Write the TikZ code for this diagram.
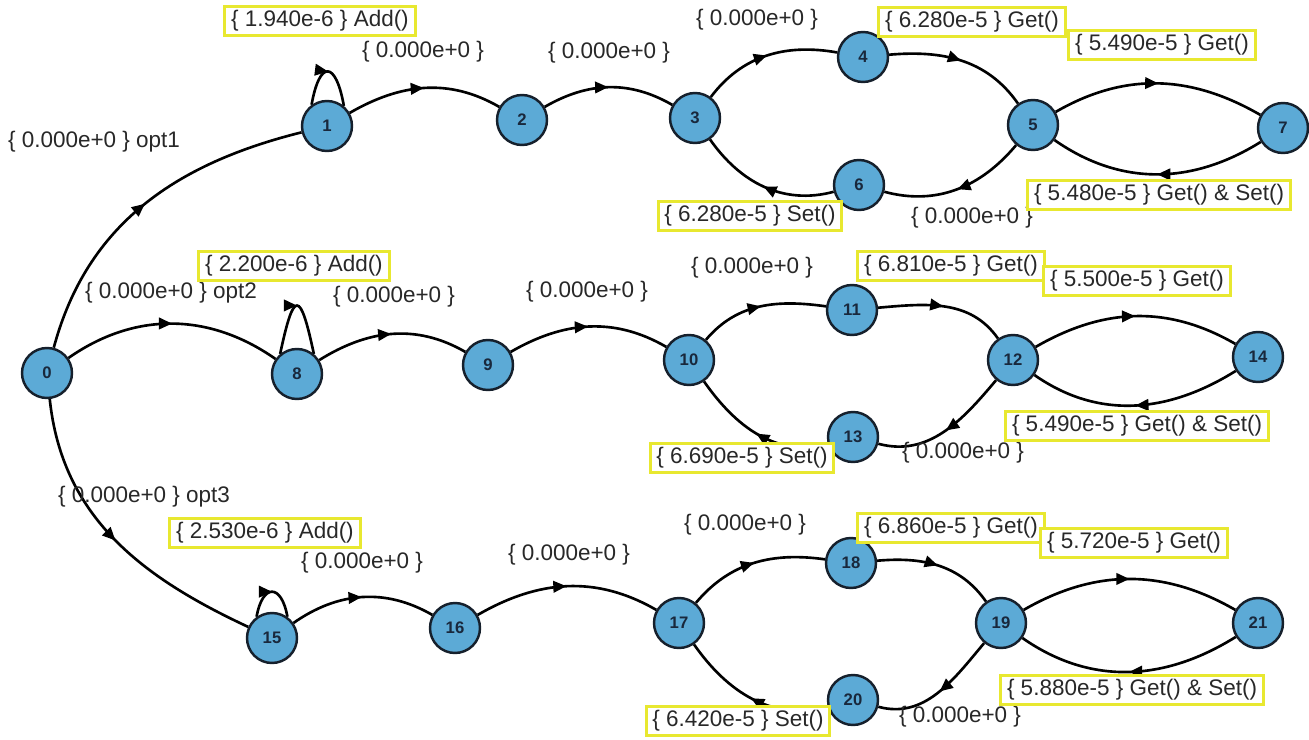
\documentclass[tikz,border=0pt]{standalone}
\usepackage{fontspec}
\setmainfont{Liberation Sans}
\usetikzlibrary{arrows.meta,decorations.markings,backgrounds}
\definecolor{nodefill}{RGB}{92,170,214}
\definecolor{nodeline}{RGB}{22,32,44}
\definecolor{numtext}{RGB}{25,40,60}
\definecolor{boxline}{RGB}{232,232,48}
\definecolor{lbltext}{RGB}{40,40,40}
\tikzset{
  stnode/.style={circle, draw=nodeline, line width=1.4pt, fill=nodefill, minimum size=1cm, inner sep=0pt, font=\bfseries\fontsize{9.5}{9.5}\selectfont, text=numtext},
  lbl/.style={font=\fontsize{12.8}{14}\selectfont, text=lbltext, inner sep=0pt, text height=9.4pt, text depth=2.8pt},
  ybox/.style={lbl, draw=boxline, line width=1.7pt, fill=white, inner xsep=3.6pt, inner ysep=2.4pt},
  tr/.style={line width=1.5pt, draw=black, postaction={decorate}, decoration={markings, mark=at position 0.5 with {\arrow{Triangle[length=7.5pt,width=6.5pt]}}}},
}
\begin{document}
\begin{tikzpicture}[x=0.02cm,y=0.02cm]
\useasboundingbox (0,0) rectangle (1309,-740);
% nodes
\node[stnode] (n0) at (47,-373) {0};
\node[stnode] (n1) at (327,-126) {1};
\node[stnode] (n2) at (522,-120) {2};
\node[stnode] (n3) at (695,-118) {3};
\node[stnode] (n4) at (863,-57) {4};
\node[stnode] (n5) at (1033,-125) {5};
\node[stnode] (n6) at (859,-185) {6};
\node[stnode] (n7) at (1283,-128) {7};
\node[stnode] (n8) at (297,-374) {8};
\node[stnode] (n9) at (488,-365) {9};
\node[stnode] (n10) at (689,-360) {10};
\node[stnode] (n11) at (852,-310) {11};
\node[stnode] (n12) at (1013,-360) {12};
\node[stnode] (n13) at (853,-437) {13};
\node[stnode] (n14) at (1258,-357) {14};
\node[stnode] (n15) at (272,-638) {15};
\node[stnode] (n16) at (455,-628) {16};
\node[stnode] (n17) at (679,-623) {17};
\node[stnode] (n18) at (851,-563) {18};
\node[stnode] (n19) at (1001,-623) {19};
\node[stnode] (n20) at (853,-700) {20};
\node[stnode] (n21) at (1258,-623) {21};
% edges, under the nodes
\begin{pgfonlayer}{background}
\fill[white] (0,0) rectangle (1309,-740);
\draw[tr] (n0) to[out=75,in=194] (n1);
\draw[tr] (n1.126) .. controls +(80:46) and +(100:46) .. (n1.50);
\draw[tr] (n1) to[out=30,in=150] (n2);
\draw[tr] (n2) to[out=30,in=150] (n3);
\draw[tr] (n3) to[out=53,in=170] (n4);
\draw[tr] (n4) to[out=5,in=125] (n5);
\draw[tr] (n5) to[out=230,in=-15] (n6);
\draw[tr] (n6) to[out=195,in=-55] (n3);
\draw[tr] (n5) to[out=30,in=150] (n7);
\draw[tr] (n7) to[out=212,in=-35] (n5);
\draw[tr] (n0) to[out=35,in=145] (n8);
\draw[tr] (n8.130) .. controls +(78:66) and +(102:66) .. (n8.50);
\draw[tr] (n8) to[out=32,in=150] (n9);
\draw[tr] (n9) to[out=30,in=150] (n10);
\draw[tr] (n10) to[out=50,in=172] (n11);
\draw[tr] (n11) to[out=5,in=125] (n12);
\draw[tr] (n12) to[out=230,in=-15] (n13);
\draw[tr] (n13) to[out=195,in=-55] (n10);
\draw[tr] (n12) to[out=30,in=150] (n14);
\draw[tr] (n14) to[out=212,in=-35] (n12);
\draw[tr] (n0) to[out=-84,in=155] (n15);
\draw[tr] (n15.126) .. controls +(80:34) and +(100:34) .. (n15.54);
\draw[tr] (n15) to[out=35,in=150] (n16);
\draw[tr] (n16) to[out=30,in=150] (n17);
\draw[tr] (n17) to[out=50,in=172] (n18);
\draw[tr] (n18) to[out=5,in=125] (n19);
\draw[tr] (n19) to[out=230,in=-15] (n20);
\draw[tr] (n20) to[out=195,in=-55] (n17);
\draw[tr] (n19) to[out=30,in=150] (n21);
\draw[tr] (n21) to[out=212,in=-35] (n19);
\end{pgfonlayer}
% labels
\node[lbl] (l01) at (94,-142) {\{ 0.000e+0 \} opt1};
\node[ybox] (b11) at (320,-21) {\{ 1.940e-6 \} Add()};
\node[lbl] (l12) at (423,-52) {\{ 0.000e+0 \}};
\node[lbl] (l23) at (609,-53) {\{ 0.000e+0 \}};
\node[lbl] (l34) at (757,-20) {\{ 0.000e+0 \}};
\node[ybox] (b45) at (972,-22) {\{ 6.280e-5 \} Get()};
\node[ybox] (b57) at (1162,-45) {\{ 5.490e-5 \} Get()};
\node[ybox] (b63) at (750,-216) {\{ 6.280e-5 \} Set()};
\node[lbl] (l56) at (972,-218) {\{ 0.000e+0 \}};
\node[ybox] (b75) at (1159,-195) {\{ 5.480e-5 \} Get() \& Set()};
\node[lbl] (l08) at (171,-293) {\{ 0.000e+0 \} opt2};
\node[ybox] (b88) at (294,-266) {\{ 2.200e-6 \} Add()};
\node[lbl] (l89) at (394,-297) {\{ 0.000e+0 \}};
\node[lbl] (l910) at (587,-292) {\{ 0.000e+0 \}};
\node[lbl] (l1011) at (752,-268) {\{ 0.000e+0 \}};
\node[ybox] (b1112) at (951,-266) {\{ 6.810e-5 \} Get()};
\node[ybox] (b1214) at (1137,-281) {\{ 5.500e-5 \} Get()};
\node[ybox] (b1310) at (742,-458) {\{ 6.690e-5 \} Set()};
\node[lbl] (l1213) at (963,-453) {\{ 0.000e+0 \}};
\node[ybox] (b1412) at (1137,-426) {\{ 5.490e-5 \} Get() \& Set()};
\node[lbl] (l015) at (144,-497) {\{ 0.000e+0 \} opt3};
\node[ybox] (b1515) at (265,-533) {\{ 2.530e-6 \} Add()};
\node[lbl] (l1516) at (362,-563) {\{ 0.000e+0 \}};
\node[lbl] (l1617) at (569,-555) {\{ 0.000e+0 \}};
\node[lbl] (l1718) at (745,-525) {\{ 0.000e+0 \}};
\node[ybox] (b1819) at (951,-528) {\{ 6.860e-5 \} Get()};
\node[ybox] (b1921) at (1134,-543) {\{ 5.720e-5 \} Get()};
\node[ybox] (b2017) at (738,-721) {\{ 6.420e-5 \} Set()};
\node[lbl] (l1920) at (960,-717) {\{ 0.000e+0 \}};
\node[ybox] (b2119) at (1132,-690) {\{ 5.880e-5 \} Get() \& Set()};
\end{tikzpicture}
\end{document}
